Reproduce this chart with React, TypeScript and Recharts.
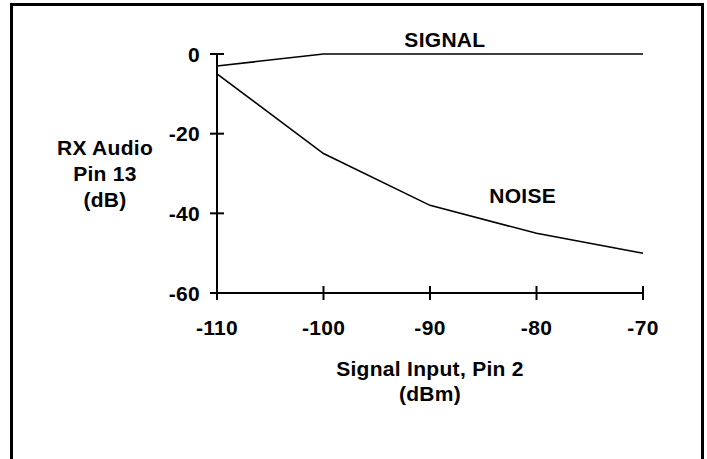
import React from 'react';
import { LineChart, Line, XAxis, YAxis, ReferenceDot } from 'recharts';

const inputDbm = [-110, -100, -90, -80, -70];
const signalDb = [-3, 0, 0, 0, 0];
const noiseDb = [-5, -25, -38, -45, -50];
const xTicks = [-110, -100, -90, -80, -70];
const yTicks = [0, -20, -40, -60];

const data = inputDbm.map((x, i) => ({ x, signal: signalDb[i], noise: noiseDb[i] }));

const FONT = '"Liberation Sans", Arial, Helvetica, sans-serif';
const FS = 21;
const LS = 0.3;

const YTick = (props: any) => {
  const { x, y, payload } = props;
  return (
    <g>
      <line x1={x - 7} x2={x + 7} y1={y} y2={y} stroke="#000" strokeWidth={2} />
      <text x={x - 17} y={y} textAnchor="end" dominantBaseline="central" fontFamily={FONT} fontSize={FS} fontWeight="bold" letterSpacing={LS} fill="#000">
        {payload.value}
      </text>
    </g>
  );
};

const XTick = (props: any) => {
  const { x, y, payload } = props;
  return (
    <g>
      <line x1={x} x2={x} y1={y - 7} y2={y + 7} stroke="#000" strokeWidth={2} />
      <text x={x} y={y + 34} textAnchor="middle" dominantBaseline="central" fontFamily={FONT} fontSize={FS} fontWeight="bold" letterSpacing={LS} fill="#000">
        {payload.value}
      </text>
    </g>
  );
};

const YLabel = () => {
  const cx = 105;
  return (
    <text x={cx} y={155} textAnchor="middle" fontFamily={FONT} fontSize={FS} fontWeight="bold" letterSpacing={LS} fill="#000">
      <tspan x={cx} y={155}>RX Audio</tspan>
      <tspan x={cx} y={181}>Pin 13</tspan>
      <tspan x={cx} y={207}>(dB)</tspan>
    </text>
  );
};

const XLabel = (props: any) => {
  const vb = props.viewBox || {};
  const cx = vb.x + vb.width / 2;
  return (
    <text x={cx} y={376} textAnchor="middle" fontFamily={FONT} fontSize={FS} fontWeight="bold" letterSpacing={LS} fill="#000">
      <tspan x={cx} y={376}>Signal Input, Pin 2</tspan>
      <tspan x={cx} y={401}>(dBm)</tspan>
    </text>
  );
};

export default function App() {
  return (
    <div style={{ position: 'absolute', left: 0, top: 0, width: 707, height: 459, overflow: 'hidden', background: '#fff' }}>
      <div style={{ position: 'absolute', left: 10, top: 3, width: 694, height: 470, boxSizing: 'border-box', border: '3px solid #000' }} />
      <div style={{ position: 'absolute', left: 0, top: 0 }}>
        <LineChart width={707} height={459} data={data} margin={{ top: 54, right: 64, bottom: 0, left: 0 }}>
          <XAxis
            dataKey="x"
            type="number"
            domain={[-110, -70]}
            ticks={xTicks}
            height={166}
            axisLine={{ stroke: '#000', strokeWidth: 2 }}
            tickLine={false}
            tickSize={0}
            tickMargin={0}
            tick={<XTick />}
            interval={0}
            label={<XLabel />}
          />
          <YAxis
            type="number"
            domain={[-60, 0]}
            ticks={yTicks}
            width={217}
            axisLine={{ stroke: '#000', strokeWidth: 2 }}
            tickLine={false}
            tickSize={0}
            tickMargin={0}
            tick={<YTick />}
            interval={0}
            label={<YLabel />}
          />
          <Line dataKey="signal" stroke="#000" strokeWidth={1.6} dot={false} isAnimationActive={false} type="linear" />
          <Line dataKey="noise" stroke="#000" strokeWidth={1.6} dot={false} isAnimationActive={false} type="linear" />
          <ReferenceDot
            x={-88.6}
            y={0}
            r={0}
            ifOverflow="visible"
            label={{ value: 'SIGNAL', position: 'top', offset: 7, fontFamily: FONT, fontSize: FS, fontWeight: 'bold', letterSpacing: LS, fill: '#000' }}
          />
          <ReferenceDot
            x={-81.3}
            y={-37.3}
            r={0}
            ifOverflow="visible"
            label={{ value: 'NOISE', position: 'top', offset: 0, fontFamily: FONT, fontSize: FS, fontWeight: 'bold', letterSpacing: LS, fill: '#000' }}
          />
        </LineChart>
      </div>
    </div>
  );
}
